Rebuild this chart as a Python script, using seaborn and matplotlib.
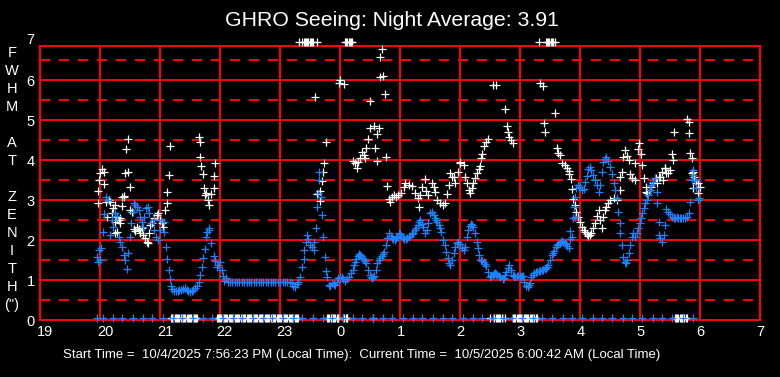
import matplotlib
matplotlib.use("Agg")
import matplotlib.pyplot as plt
import seaborn as sns
import pandas as pd
from matplotlib.transforms import ScaledTranslation
from matplotlib.ticker import MultipleLocator

# ---------------- data (hours on a continuous axis: 24 = midnight) ----------------
hour_ticks = [19, 20, 21, 22, 23, 24, 25, 26, 27, 28, 29, 30, 31]
hour_labels = ["19", "20", "21", "22", "23", "0", "1", "2", "3", "4", "5", "6", "7"]
y_ticks = [0, 1, 2, 3, 4, 5, 6]

# blue series (time, FWHM)
blue_pts = [
    (19.945, 1.59), (19.97, 1.46), (19.98, 1.76), (20.0, 1.51), (20.02, 1.80), (20.05, 2.20), (20.07, 2.65),
    (20.10, 3.08), (20.13, 3.01), (20.17, 2.13), (20.20, 2.51), (20.22, 2.34), (20.25, 2.68), (20.28, 2.61),
    (20.31, 2.09), (20.33, 1.97), (20.36, 1.84), (20.39, 1.63), (20.42, 1.51), (20.44, 1.28), (20.47, 1.69),
    (20.49, 2.08), (20.51, 2.43), (20.54, 2.70), (20.56, 2.93), (20.58, 2.88), (20.62, 2.83), (20.65, 2.76),
    (20.67, 2.58), (20.69, 2.47), (20.71, 2.34), (20.73, 2.59), (20.77, 2.80), (20.79, 2.83), (20.82, 2.68),
    (20.85, 2.43), (20.89, 2.51), (20.90, 2.26), (20.93, 2.09), (20.96, 2.01), (20.99, 2.26), (21.02, 2.51),
    (21.06, 2.47), (21.07, 2.20), (21.10, 1.84), (21.12, 1.53), (21.14, 1.26), (21.16, 1.03), (21.18, 0.86),
    (21.20, 0.78), (21.23, 0.74), (21.26, 0.74), (21.29, 0.74), (21.32, 0.75), (21.35, 0.76), (21.38, 0.79),
    (21.42, 0.81), (21.45, 0.76), (21.47, 0.73), (21.50, 0.71), (21.53, 0.73), (21.55, 0.76), (21.58, 0.80),
    (21.61, 0.86), (21.64, 0.97), (21.67, 1.13), (21.69, 1.33), (21.72, 1.55), (21.74, 1.78), (21.76, 2.08),
    (21.78, 2.21), (21.81, 2.32), (21.82, 2.26), (21.85, 1.93), (21.89, 1.61), (21.92, 1.48), (21.94, 1.34),
    (21.97, 1.38), (22.0, 1.46), (22.03, 1.26), (22.05, 1.12), (22.07, 0.98), (22.10, 1.05), (22.13, 0.95),
    (22.16, 0.96), (22.20, 0.96), (22.24, 0.96), (22.28, 0.96), (22.32, 0.96), (22.36, 0.96), (22.40, 0.96),
    (22.44, 0.96), (22.48, 0.96), (22.52, 0.96), (22.56, 0.96), (22.60, 0.96), (22.64, 0.96), (22.68, 0.96),
    (22.72, 0.96), (22.76, 0.96), (22.80, 0.96), (22.84, 0.96), (22.88, 0.96), (22.92, 0.96), (22.96, 0.96),
    (23.00, 0.96), (23.04, 0.96), (23.08, 0.96), (23.12, 0.96), (23.16, 0.96), (23.19, 0.93), (23.22, 0.86),
    (23.25, 0.83), (23.28, 0.90), (23.30, 0.97), (23.33, 1.08), (23.36, 1.33), (23.39, 1.53), (23.40, 1.76),
    (23.43, 1.97), (23.45, 2.13), (23.47, 2.03), (23.50, 1.88), (23.53, 1.83), (23.56, 1.76), (23.57, 1.97),
    (23.59, 2.30), (23.61, 2.84), (23.63, 3.18), (23.64, 3.70), (23.65, 3.51), (23.68, 3.09), (23.69, 2.63),
    (23.72, 2.08), (23.74, 1.58), (23.76, 1.24), (23.78, 1.08), (23.81, 0.88), (23.83, 0.86), (23.86, 0.93),
    (23.89, 0.91), (23.92, 0.88), (23.94, 0.95), (23.97, 1.05), (24.0, 1.08), (24.03, 1.09), (24.05, 1.03),
    (24.08, 0.99), (24.11, 1.04), (24.14, 1.09), (24.18, 1.18), (24.21, 1.26), (24.23, 1.38), (24.25, 1.46),
    (24.27, 1.53), (24.29, 1.60), (24.31, 1.66), (24.33, 1.64), (24.35, 1.61), (24.37, 1.57), (24.39, 1.53),
    (24.41, 1.49), (24.43, 1.44), (24.46, 1.26), (24.49, 1.13), (24.51, 1.09), (24.53, 1.05), (24.55, 1.08),
    (24.57, 1.11), (24.59, 1.26), (24.62, 1.44), (24.64, 1.50), (24.66, 1.55), (24.69, 1.61), (24.71, 1.66),
    (24.73, 1.72), (24.76, 1.88), (24.78, 2.05), (24.81, 2.18), (24.84, 2.11), (24.86, 2.07), (24.88, 2.03),
    (24.91, 2.01), (24.93, 2.05), (24.95, 2.09), (24.98, 2.19), (25.0, 2.15), (25.02, 2.11), (25.05, 2.07),
    (25.07, 2.03), (25.10, 2.04), (25.12, 2.05), (25.15, 2.08), (25.17, 2.11), (25.20, 2.15), (25.22, 2.19),
    (25.25, 2.25), (25.27, 2.30), (25.29, 2.39), (25.31, 2.47), (25.33, 2.51), (25.36, 2.42), (25.38, 2.34),
    (25.41, 2.19), (25.44, 2.26), (25.47, 2.44), (25.50, 2.68), (25.53, 2.72), (25.56, 2.63), (25.58, 2.57),
    (25.60, 2.51), (25.62, 2.45), (25.64, 2.38), (25.66, 2.30), (25.68, 2.22), (25.71, 2.01), (25.74, 1.88),
    (25.76, 1.72), (25.79, 1.55), (25.82, 1.43), (25.83, 1.38), (25.86, 1.51), (25.89, 1.68), (25.92, 1.83),
    (25.94, 1.94), (25.97, 1.97), (26.0, 1.91), (26.03, 1.80), (26.06, 1.76), (26.08, 1.84), (26.11, 2.09),
    (26.13, 2.26), (26.16, 2.36), (26.18, 2.40), (26.20, 2.38), (26.22, 2.34), (26.25, 2.18), (26.28, 1.97),
    (26.29, 1.80), (26.32, 1.63), (26.35, 1.51), (26.37, 1.49), (26.39, 1.47), (26.41, 1.42), (26.43, 1.36),
    (26.46, 1.22), (26.50, 1.08), (26.52, 1.11), (26.54, 1.13), (26.56, 1.16), (26.58, 1.18), (26.60, 1.16),
    (26.62, 1.13), (26.64, 1.10), (26.67, 1.08), (26.71, 1.03), (26.73, 1.07), (26.75, 1.13), (26.77, 1.22),
    (26.79, 1.30), (26.82, 1.38), (26.85, 1.26), (26.88, 1.13), (26.90, 1.11), (26.92, 1.09), (26.95, 1.10),
    (26.97, 1.11), (26.99, 1.10), (27.01, 1.08), (27.03, 1.10), (27.05, 1.11), (27.07, 0.97), (27.10, 0.86),
    (27.13, 0.83), (27.15, 0.88), (27.17, 0.93), (27.19, 1.08), (27.21, 1.13), (27.23, 1.18), (27.26, 1.20),
    (27.28, 1.22), (27.31, 1.23), (27.33, 1.24), (27.36, 1.25), (27.39, 1.26), (27.41, 1.28), (27.43, 1.30),
    (27.45, 1.34), (27.47, 1.38), (27.50, 1.51), (27.53, 1.63), (27.55, 1.69), (27.57, 1.74), (27.60, 1.84),
    (27.62, 1.88), (27.64, 1.91), (27.66, 1.94), (27.68, 1.97), (27.70, 1.98), (27.72, 1.97), (27.75, 1.94),
    (27.77, 1.91), (27.79, 1.86), (27.81, 1.80), (27.83, 2.03), (27.84, 2.24), (27.86, 2.09), (27.88, 2.55),
    (27.90, 2.84), (27.92, 3.09), (27.92, 2.59), (27.94, 3.31), (27.97, 3.38), (28.0, 3.33), (28.03, 3.26),
    (28.06, 3.28), (28.08, 3.46), (28.11, 3.61), (28.14, 3.78), (28.17, 3.84), (28.19, 3.76), (28.22, 3.63),
    (28.25, 3.51), (28.28, 3.38), (28.31, 3.21), (28.33, 3.38), (28.36, 3.71), (28.39, 3.96), (28.42, 4.03),
    (28.44, 4.09), (28.47, 3.98), (28.50, 3.83), (28.53, 3.66), (28.56, 3.43), (28.58, 3.26), (28.61, 3.06),
    (28.64, 2.72), (28.66, 2.43), (28.67, 2.18), (28.70, 1.88), (28.72, 1.58), (28.75, 1.47), (28.77, 1.43),
    (28.79, 1.51), (28.81, 1.68), (28.83, 1.88), (28.86, 2.09), (28.89, 2.18), (28.92, 2.09), (28.95, 2.18),
    (28.97, 2.30), (29.0, 2.43), (29.01, 2.55), (29.03, 2.68), (29.06, 2.80), (29.08, 2.93), (29.11, 3.01),
    (29.14, 3.13), (29.17, 3.26), (29.19, 3.38), (29.22, 3.47), (29.25, 3.55), (29.28, 2.93), (29.28, 3.22),
    (29.31, 2.47), (29.32, 2.13), (29.33, 2.05), (29.36, 1.97), (29.40, 2.13), (29.42, 2.38), (29.44, 2.78),
    (29.47, 2.72), (29.50, 2.66), (29.53, 2.59), (29.56, 2.55), (29.58, 2.57), (29.61, 2.59), (29.64, 2.57),
    (29.67, 2.55), (29.69, 2.55), (29.72, 2.55), (29.75, 2.57), (29.78, 2.59), (29.81, 2.69), (29.83, 2.97),
    (29.86, 3.51), (29.88, 3.76), (29.89, 3.63), (29.92, 3.51), (29.94, 3.30), (29.97, 3.01), (29.99, 3.05),
]

# white series (time, FWHM)
white_pts = [
    (19.96, 2.94), (19.97, 3.24), (19.98, 3.51), (20.0, 3.68), (20.03, 3.78), (20.06, 3.72), (20.07, 3.40),
    (20.10, 2.97), (20.11, 2.58), (20.14, 3.01), (20.17, 2.97), (20.20, 2.68), (20.22, 2.81), (20.25, 2.88),
    (20.25, 2.47), (20.28, 2.59), (20.31, 2.51), (20.28, 2.22), (20.25, 2.18), (20.33, 2.43), (20.33, 2.55),
    (20.36, 2.86), (20.36, 3.09), (20.39, 3.11), (20.40, 3.09), (20.42, 3.68), (20.43, 4.28), (20.46, 4.53),
    (20.47, 3.72), (20.49, 3.33), (20.50, 2.76), (20.53, 2.71), (20.56, 2.28), (20.58, 2.23), (20.61, 2.33),
    (20.64, 2.28), (20.67, 2.26), (20.67, 2.18), (20.69, 2.30), (20.72, 2.13), (20.75, 2.05), (20.78, 1.97),
    (20.79, 1.94), (20.81, 2.18), (20.83, 2.38), (20.86, 2.43), (20.90, 2.55), (20.95, 2.63), (20.97, 2.68),
    (20.99, 2.51), (21.03, 2.43), (21.05, 2.34), (21.08, 2.76), (21.11, 2.93), (21.12, 3.20), (21.14, 3.63),
    (21.16, 4.36),
    (21.64, 4.58), (21.66, 4.47), (21.67, 4.08), (21.68, 3.86), (21.72, 3.66), (21.73, 3.30), (21.75, 3.13),
    (21.77, 3.18), (21.79, 3.01), (21.81, 2.88), (21.85, 3.16), (21.89, 3.30), (21.90, 3.61), (21.92, 3.94),
    (23.58, 5.58), (23.61, 3.16), (23.66, 2.99), (23.67, 3.24), (23.69, 3.48), (23.71, 3.70), (23.73, 3.93),
    (23.77, 4.45), (23.98, 5.93), (24.0, 6.01), (24.06, 5.91), (24.22, 3.98), (24.25, 3.93), (24.28, 3.80),
    (24.30, 3.96), (24.33, 4.05), (24.36, 4.22), (24.39, 4.13), (24.41, 4.05), (24.43, 4.30), (24.47, 4.53),
    (24.49, 4.80), (24.50, 5.49), (24.57, 4.87), (24.58, 4.30), (24.61, 3.98), (24.62, 4.65), (24.64, 4.80),
    (24.67, 6.08), (24.67, 6.59), (24.69, 6.78), (24.72, 6.11), (24.74, 5.65), (24.76, 4.08), (24.78, 3.37),
    (24.81, 3.03), (24.83, 2.97), (24.86, 3.09), (24.89, 3.13), (24.93, 3.09), (24.97, 3.13), (25.01, 3.19),
    (25.06, 3.34), (25.08, 3.43), (25.14, 3.38), (25.19, 3.36), (25.25, 3.18), (25.29, 3.05), (25.31, 2.84),
    (25.33, 3.13), (25.36, 3.34), (25.41, 3.53), (25.43, 3.24), (25.47, 3.13), (25.53, 3.43), (25.56, 3.34),
    (25.58, 3.22), (25.62, 3.01), (25.67, 2.93), (25.71, 2.88), (25.75, 2.94), (25.78, 3.16), (25.81, 3.38),
    (25.83, 3.68), (25.86, 3.59), (25.89, 3.59), (25.92, 3.44), (25.96, 3.72), (25.99, 3.93), (26.0, 3.97),
    (26.06, 3.88), (26.08, 3.58), (26.11, 3.43), (26.14, 3.26), (26.17, 3.18), (26.19, 3.30), (26.22, 3.43),
    (26.25, 3.55), (26.28, 3.68), (26.31, 3.78), (26.33, 3.86), (26.35, 4.05), (26.37, 4.16), (26.40, 4.36),
    (26.43, 4.47), (26.47, 4.53), (26.54, 5.88), (26.60, 5.88), (26.75, 5.28), (26.78, 4.86), (26.79, 4.72),
    (26.82, 4.59), (26.85, 4.51), (26.88, 4.43), (27.33, 5.93), (27.38, 5.85), (27.40, 4.93), (27.42, 4.70),
    (27.58, 5.18), (27.61, 4.30), (27.64, 4.18), (27.67, 4.13), (27.70, 3.93), (27.75, 3.88), (27.78, 3.80),
    (27.81, 3.73), (27.82, 3.66), (27.85, 3.53), (27.86, 3.28), (27.88, 3.03), (27.92, 2.88), (27.94, 2.72),
    (27.97, 2.59), (28.0, 2.46), (28.03, 2.33), (28.06, 2.26), (28.08, 2.22), (28.11, 2.16), (28.14, 2.11),
    (28.17, 2.13), (28.19, 2.19), (28.22, 2.30), (28.25, 2.43), (28.28, 2.61), (28.31, 2.76), (28.33, 2.51),
    (28.36, 2.30), (28.39, 2.59), (28.42, 2.76), (28.44, 2.84), (28.47, 2.93), (28.50, 3.01), (28.56, 3.05),
    (28.61, 3.01), (28.67, 3.26), (28.67, 3.59), (28.70, 3.72), (28.72, 4.09), (28.75, 4.25), (28.78, 4.11),
    (28.81, 4.01), (28.83, 3.66), (28.86, 3.55), (28.91, 3.51), (28.92, 3.94), (28.97, 4.28), (28.98, 4.43),
    (29.01, 4.16), (29.04, 3.88), (29.07, 3.55), (29.10, 3.34), (29.10, 3.22), (29.12, 3.18), (29.16, 3.26),
    (29.19, 3.34), (29.22, 3.44), (29.27, 3.55), (29.28, 3.44), (29.31, 3.59), (29.33, 3.59), (29.36, 3.71),
    (29.39, 3.51), (29.41, 3.80), (29.42, 3.80), (29.44, 3.68), (29.47, 3.68), (29.50, 3.76), (29.53, 4.16),
    (29.55, 4.01), (29.57, 4.70), (29.78, 5.03), (29.81, 4.97), (29.82, 4.68), (29.84, 4.18), (29.86, 4.05),
    (29.87, 3.68), (29.89, 3.72), (29.90, 3.59), (29.92, 3.51), (29.94, 3.43), (29.97, 3.43), (30.0, 3.34),
    (29.97, 3.18), (29.89, 3.30),
]

# readings logged as 0 (drawn on the bottom edge)
blue_zero_t = [
    19.95, 20.04, 20.21, 20.37, 20.54, 20.71, 20.87, 21.04, 21.21, 21.37, 21.54, 21.71, 21.87, 22.04, 22.21,
    22.37, 22.54, 22.71, 22.87, 23.04, 23.21, 23.37, 23.54, 23.71, 23.87, 24.04, 24.21, 24.37, 24.54, 24.71,
    24.87, 25.04, 25.21, 25.37, 25.54, 25.71, 25.87, 26.04, 26.21, 26.37, 26.54, 26.71, 26.87, 27.04, 27.21,
    27.37, 27.54, 27.71, 27.87, 28.04, 28.21, 28.37, 28.54, 28.71, 28.87, 29.04, 29.21, 29.37, 29.54, 29.71,
    29.89,
]
white_zero_t = [
    21.18, 21.20, 21.22, 21.24, 21.26, 21.28, 21.30, 21.32, 21.34, 21.36, 21.38, 21.40, 21.42, 21.44, 21.46,
    21.48, 21.50, 21.52, 21.54, 21.56, 21.58, 21.60, 21.62,
    21.94, 21.96, 21.98, 22.00, 22.02, 22.04, 22.06, 22.08, 22.10, 22.12, 22.14, 22.16, 22.18, 22.20, 22.22,
    22.24, 22.26, 22.28, 22.30, 22.32, 22.34, 22.36, 22.38, 22.40, 22.42, 22.44, 22.46, 22.48, 22.50, 22.52,
    22.54, 22.56, 22.58, 22.60, 22.62, 22.64, 22.66, 22.68, 22.70, 22.72, 22.74, 22.76, 22.78, 22.80, 22.82,
    22.84, 22.86, 22.88, 22.90, 22.92, 22.94, 22.96, 22.98, 23.00, 23.02, 23.04, 23.06, 23.08, 23.10, 23.12,
    23.14, 23.16, 23.18, 23.20, 23.22, 23.24, 23.26, 23.28, 23.30,
    23.78, 23.80, 23.82, 23.84, 23.86, 23.88, 23.90, 23.92, 23.94, 23.96, 23.97,
    24.05, 24.07, 24.09, 24.11, 24.12, 24.54,
    26.50, 26.57, 26.59, 26.61, 26.63, 26.65, 26.67, 26.69, 26.75,
    26.88, 26.90, 26.92, 26.94, 26.96, 26.98, 27.00, 27.02, 27.04, 27.06, 27.08, 27.10, 27.12, 27.14, 27.16,
    27.18, 27.20, 27.22, 27.24, 27.26, 27.28,
    29.58, 29.60, 29.62, 29.64, 29.66, 29.68, 29.70, 29.72, 29.74, 29.76, 29.78,
]
# white readings above the 7" ceiling (drawn on the top edge)
white_top_t = [
    23.31, 23.37, 23.39, 23.41, 23.43, 23.45, 23.47, 23.49, 23.51, 23.53, 23.55, 23.61,
    24.08, 24.10, 24.12, 24.14, 24.16, 24.18, 24.20,
    27.31, 27.43, 27.45, 27.47, 27.49, 27.51, 27.53, 27.55, 27.59,
]
zero_level = 0.05
top_level = 6.95

title = "GHRO Seeing: Night Average: 3.91"
footer = "Start Time =  10/4/2025 7:56:23 PM (Local Time):  Current Time =  10/5/2025 6:00:42 AM (Local Time)"
ylabel_letters = ["F", "W", "H", "M", "", "A", "T", "", "Z", "E", "N", "I", "T", "H", "(\")"]

# ---------------- frames ----------------
blue_df = pd.concat([
    pd.DataFrame(blue_pts, columns=["t", "v"]),
    pd.DataFrame({"t": blue_zero_t, "v": zero_level}),
], ignore_index=True)
white_df = pd.concat([
    pd.DataFrame(white_pts, columns=["t", "v"]),
    pd.DataFrame({"t": white_zero_t, "v": zero_level}),
    pd.DataFrame({"t": white_top_t, "v": top_level}),
], ignore_index=True)

# ---------------- style ----------------
sns.set_style("dark")
plt.rcParams["font.family"] = ["Liberation Sans", "DejaVu Sans"]
RED = "#ff0000"
BLUE = "#1e82ff"
LW = 1.1

W, H = 780, 377
fig = plt.figure(figsize=(W / 100, H / 100), dpi=100, facecolor="black")
x0, x1, ytop, ybot = 40.3, 760.0, 45.7, 320.3
ax = fig.add_axes([x0 / W, 1 - ybot / H, (x1 - x0) / W, (ybot - ytop) / H])
ax.set_facecolor("black")

sns.scatterplot(data=white_df, x="t", y="v", color="white", marker="+", s=26, linewidth=0.9,
                ax=ax, legend=False, clip_on=False, zorder=3)
sns.scatterplot(data=blue_df, x="t", y="v", color=BLUE, marker="+", s=26, linewidth=0.9,
                ax=ax, legend=False, clip_on=False, zorder=4)

ax.set_xlim(19, 31)
ax.set_ylim(0, 6.865)
ax.set_xticks(hour_ticks)
ax.set_xticklabels(hour_labels)
ax.set_yticks(y_ticks)
ax.yaxis.set_minor_locator(MultipleLocator(0.5))
ax.set_xlabel("")
ax.set_ylabel("")

ax.grid(False)
ax.grid(True, which="major", axis="both", color=RED, linewidth=LW, linestyle="-", antialiased=False)
ax.grid(True, which="minor", axis="y", color=RED, linewidth=LW, linestyle=(0, (6.5, 6.5)), antialiased=False)
ax.set_axisbelow(True)
for s in ax.spines.values():
    s.set_visible(True)
    s.set_color(RED)
    s.set_linewidth(LW)
    s.set_antialiased(False)

ax.tick_params(axis="both", which="both", length=0, colors="white", labelsize=10.5)
ax.tick_params(axis="x", pad=3.2)
ax.tick_params(axis="y", pad=4.0)
for lab in ax.get_xticklabels():
    lab.set_horizontalalignment("left")
    lab.set_transform(lab.get_transform() + ScaledTranslation(-3.5 / 100, 0, fig.dpi_scale_trans))

# "7" label sits above the frame
ax.annotate("7", xy=(0, 7), xycoords=("axes fraction", "data"), xytext=(-4.0, 0),
            textcoords="offset points", ha="right", va="center", color="white",
            fontsize=10.5, annotation_clip=False)

fig.text(391.5 / W, 1 - 20 / H, title, ha="center", va="center", color="white", fontsize=15.3)
fig.text(362 / W, 1 - 355 / H, footer, ha="center", va="center", color="white", fontsize=9.5)
for i, ch in enumerate(ylabel_letters):
    if ch:
        fig.text(12 / W, 1 - (53.3 + 18.0 * i) / H, ch, ha="center", va="center",
                 color="white", fontsize=10.5)

fig.savefig("out.png", dpi=100, facecolor="black")
